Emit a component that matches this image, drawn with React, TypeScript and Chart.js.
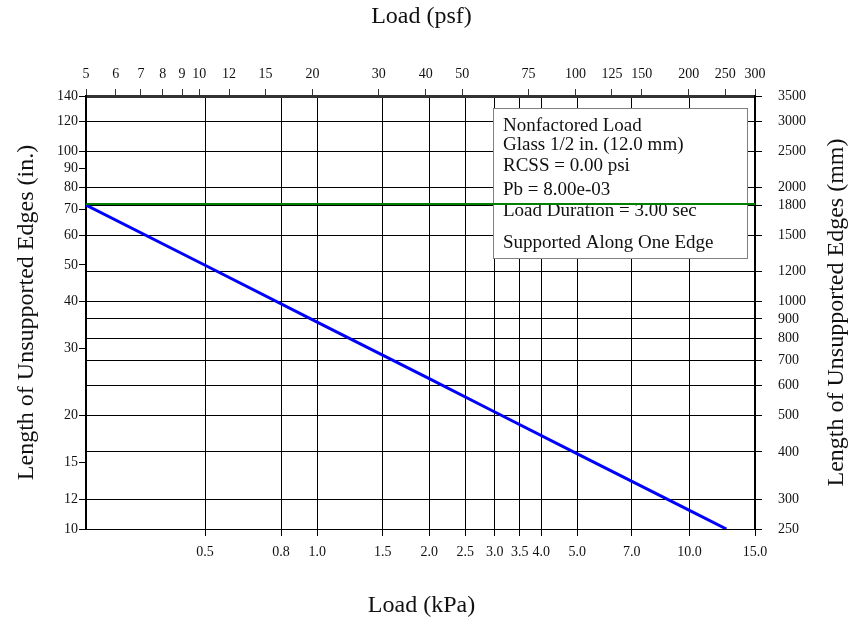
import React, { useEffect, useRef } from "react";
import { Chart, registerables } from "chart.js";

Chart.register(...registerables);

// Curve: allowable length vs. load
const loadKpa = [0.2394, 0.5, 1.0, 2.0, 3.0, 5.0, 10.0, 12.57];
const lengthIn = [72.0, 49.9, 35.3, 25.0, 20.4, 15.8, 11.2, 10.0];

// Horizontal limit line
const limitLoadKpa = [0.2394, 15.0];
const limitLengthIn = [72.5, 72.5];

// Axis ticks
const kpaTicks = [0.5, 0.8, 1.0, 1.5, 2.0, 2.5, 3.0, 3.5, 4.0, 5.0, 7.0, 10.0, 15.0];
const psfTicks = [5, 6, 7, 8, 9, 10, 12, 15, 20, 30, 40, 50, 75, 100, 125, 150, 200, 250, 300];
const inTicks = [10, 12, 15, 20, 30, 40, 50, 60, 70, 80, 90, 100, 120, 140];
const mmTicks = [250, 300, 400, 500, 600, 700, 800, 900, 1000, 1200, 1500, 1800, 2000, 2500, 3000, 3500];

const legendLines = [
  "Nonfactored Load",
  "Glass 1/2 in. (12.0 mm)",
  "RCSS = 0.00 psi",
  "Pb = 8.00e-03",
  "Load Duration = 3.00 sec",
  "Supported Along One Edge",
];
const legendBaselines = [23, 42, 63, 87, 108, 140];

const FONT = "'Liberation Serif', 'Times New Roman', serif";

export default function App() {
  const ref = useRef<HTMLCanvasElement>(null);

  useEffect(() => {
    const canvas = ref.current!;
    const fixTicks = (vals: number[]) => (scale: any) => {
      scale.ticks = vals.map((v) => ({ value: v }));
    };
    const tickFont = { family: FONT, size: 14 };

    const boxPlugin = {
      id: "infoBox",
      beforeDatasetsDraw(chart: any) {
        const { ctx, chartArea } = chart;
        const x = chartArea.right - 262;
        const y = chartArea.top + 12;
        const w = 254;
        const h = 150;
        ctx.save();
        ctx.fillStyle = "#ffffff";
        ctx.fillRect(x, y, w, h);
        ctx.strokeStyle = "#808080";
        ctx.lineWidth = 1;
        ctx.strokeRect(x + 0.5, y + 0.5, w, h);
        ctx.fillStyle = "#111";
        ctx.font = `19px ${FONT}`;
        ctx.textAlign = "left";
        ctx.textBaseline = "alphabetic";
        legendLines.forEach((t, i) => ctx.fillText(t, x + 10, y + legendBaselines[i]));
        ctx.restore();
      },
    };

    const titlePlugin = {
      id: "titles",
      afterDraw(chart: any) {
        const { ctx, chartArea } = chart;
        const cx = (chartArea.left + chartArea.right) / 2 + 1;
        const cy = (chartArea.top + chartArea.bottom) / 2;
        ctx.save();
        ctx.fillStyle = "#111";
        ctx.font = `24px ${FONT}`;
        ctx.textAlign = "center";
        ctx.textBaseline = "alphabetic";
        ctx.fillText("Load (psf)", cx, 23);
        ctx.fillText("Load (kPa)", cx, 612);
        ctx.save();
        ctx.translate(33, cy);
        ctx.rotate(-Math.PI / 2);
        ctx.fillText("Length of Unsupported Edges (in.)", 0, 0);
        ctx.restore();
        ctx.save();
        ctx.translate(843, cy);
        ctx.rotate(-Math.PI / 2);
        ctx.fillText("Length of Unsupported Edges (mm)", 0, 0);
        ctx.restore();
        ctx.restore();
      },
    };

    const chart = new Chart(canvas, {
      type: "scatter",
      data: {
        datasets: [
          {
            label: "limit",
            data: limitLoadKpa.map((x, i) => ({ x, y: limitLengthIn[i] })),
            borderColor: "#008000",
            backgroundColor: "#008000",
            borderWidth: 2,
            showLine: true,
            pointRadius: 0,
            xAxisID: "x",
            yAxisID: "y",
          },
          {
            label: "curve",
            data: loadKpa.map((x, i) => ({ x, y: lengthIn[i] })),
            borderColor: "#0000ff",
            backgroundColor: "#0000ff",
            borderWidth: 3,
            showLine: true,
            pointRadius: 0,
            xAxisID: "x",
            yAxisID: "y",
          },
        ],
      },
      options: {
        responsive: false,
        animation: false,
        devicePixelRatio: 1,
        events: [],
        layout: { padding: 0 },
        plugins: { legend: { display: false }, tooltip: { enabled: false } },
        scales: {
          x: {
            type: "logarithmic",
            position: "bottom",
            min: 0.2394,
            max: 15,
            bounds: "data",
            afterBuildTicks: fixTicks(kpaTicks),
            afterFit: (s: any) => {
              s.height = 90;
            },
            ticks: {
              autoSkip: false,
              maxRotation: 0,
              minRotation: 0,
              padding: 8,
              color: "#111",
              font: tickFont,
              callback: (v: any) => Number(v).toFixed(1),
            },
            grid: { display: true, drawOnChartArea: true, drawTicks: true, tickLength: 7, color: "#000", lineWidth: 1 },
            border: { display: true, color: "#000", width: 1 },
          },
          x2: {
            type: "logarithmic",
            position: "top",
            min: 5,
            max: 300,
            bounds: "data",
            afterBuildTicks: fixTicks(psfTicks),
            afterFit: (s: any) => {
              s.height = 96;
            },
            ticks: {
              autoSkip: false,
              maxRotation: 0,
              minRotation: 0,
              padding: 6,
              color: "#111",
              font: tickFont,
              callback: (v: any) => String(Math.round(Number(v))),
            },
            grid: { display: true, drawOnChartArea: false, drawTicks: true, tickLength: 7, color: "#333", lineWidth: 1 },
            border: { display: true, color: "#333", width: 3 },
          },
          y: {
            type: "logarithmic",
            position: "left",
            min: 10,
            max: 140,
            bounds: "data",
            afterBuildTicks: fixTicks(inTicks),
            afterFit: (s: any) => {
              s.width = 86;
            },
            ticks: {
              autoSkip: false,
              padding: 1,
              color: "#111",
              font: tickFont,
              callback: (v: any) => String(Math.round(Number(v))),
            },
            grid: { display: true, drawOnChartArea: false, drawTicks: true, tickLength: 7, color: "#000", lineWidth: 1 },
            border: { display: true, color: "#000", width: 2 },
          },
          y2: {
            type: "logarithmic",
            position: "right",
            min: 250,
            max: 3500,
            bounds: "data",
            afterBuildTicks: fixTicks(mmTicks),
            afterFit: (s: any) => {
              s.width = 96;
            },
            ticks: {
              autoSkip: false,
              padding: 16,
              color: "#111",
              font: tickFont,
              callback: (v: any) => String(Math.round(Number(v))),
            },
            grid: { display: true, drawOnChartArea: true, drawTicks: true, tickLength: 7, color: "#000", lineWidth: 1 },
            border: { display: true, color: "#000", width: 2 },
          },
        },
      } as any,
      plugins: [boxPlugin, titlePlugin],
    });

    return () => chart.destroy();
  }, []);

  return (
    <div style={{ position: "absolute", left: 0, top: 0, width: 851, height: 619, background: "#fff" }}>
      <canvas ref={ref} width={851} height={619} style={{ display: "block", width: 851, height: 619 }} />
    </div>
  );
}
